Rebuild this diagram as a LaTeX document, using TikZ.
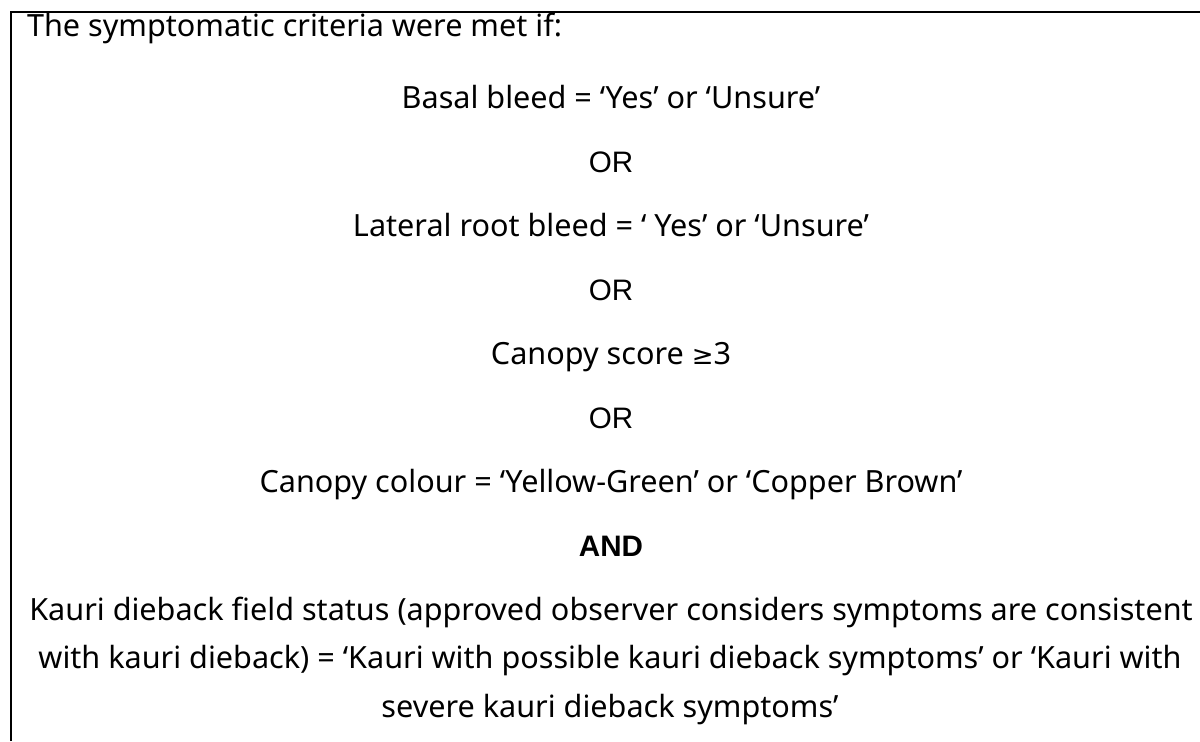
\documentclass[tikz,border=0pt]{standalone}
\usepackage{fontspec}
\setmainfont{Noto Sans}
\newfontfamily\orfont{Liberation Sans}
\newfontfamily\symfont{DejaVu Sans}
\begin{document}
\begin{tikzpicture}[x=0.5pt,y=-0.5pt,
  txt/.style={inner sep=0pt,outer sep=0pt,font=\fontsize{15.3pt}{18pt}\selectfont,anchor=base},
  conj/.style={inner sep=0pt,outer sep=0pt,font=\orfont\fontsize{14.8pt}{18pt}\selectfont,anchor=base},
  rule/.style={line width=1.2pt,black}]
\useasboundingbox (0,0) rectangle (1200,741);
\fill[white] (0,0) rectangle (1200,741);
\coordinate (bl) at (11,741);
\coordinate (tl) at (11,12);
\coordinate (tr) at (1200,12);
\draw[rule] (bl) -- (tl) -- (tr);
\node[txt,anchor=base west] (head) at (27,36) {The symptomatic criteria were met if:};
\node[txt] (basal) at (611,108) {Basal bleed = ‘Yes’ or ‘Unsure’};
\node[conj] (or1) at (611,172) {OR};
\node[txt] (lat) at (611,236) {Lateral root bleed = ‘ Yes’ or ‘Unsure’};
\node[conj] (or2) at (611,300) {OR};
\node[txt] (score) at (611,364) {Canopy score {\symfont\fontsize{13pt}{18pt}\selectfont ≥}3};
\node[conj] (or3) at (611,428) {OR};
\node[txt] (colour) at (611,492) {Canopy colour = ‘Yellow-Green’ or ‘Copper Brown’};
\node[conj,font=\orfont\bfseries\fontsize{14.8pt}{18pt}\selectfont] (and) at (611,556) {AND};
\node[txt] (k1) at (611,620) {Kauri dieback field status (approved observer considers symptoms are consistent};
\node[txt] (k2) at (610,668) {with kauri dieback) = ‘Kauri with possible kauri dieback symptoms’ or ‘Kauri with};
\node[txt] (k3) at (610,717) {severe kauri dieback symptoms’};
\end{tikzpicture}
\end{document}
